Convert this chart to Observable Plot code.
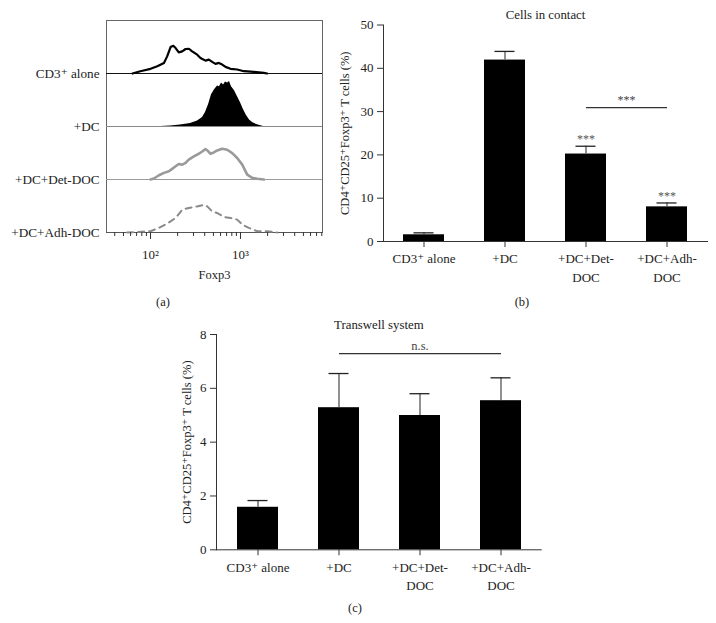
<!DOCTYPE html>
<html>
<head>
<meta charset="utf-8">
<script src="https://cdn.jsdelivr.net/npm/d3@7"></script>
<script src="https://cdn.jsdelivr.net/npm/@observablehq/plot@0.6"></script>
<style>
  html, body { margin: 0; padding: 0; background: white; }
  #fig { position: relative; width: 716px; height: 623px; background: white; font-family: "Liberation Serif", "DejaVu Serif", serif; color: #222; }
  #fig > svg { position: absolute; font-family: "Liberation Serif", "DejaVu Serif", serif !important; font-size: 12px !important; }
  #fig > svg text { font-family: "Liberation Serif", "DejaVu Serif", serif !important; }
  .plabel { position: absolute; font-size: 12.5px; transform: translate(-50%, -50%); white-space: nowrap; }
</style>
</head>
<body>
<div id="fig"></div>
<script>
// ---------- Panel (a): Foxp3 histograms ----------
const histSamples = ["CD3⁺ alone", "+DC", "+DC+Det-DOC", "+DC+Adh-DOC"];

const cd3Foxp3 = [63, 77, 100, 119, 141, 153, 167, 179, 190, 206, 225, 245, 267, 290, 330, 359, 408, 445, 484, 527, 574, 626, 681, 774, 918, 1089, 1406, 1816, 1976];
const cd3Count = [0, 4.3, 8.8, 13.6, 20, 32.3, 49.9, 52.3, 48, 39.8, 41.7, 46.2, 46.7, 41.7, 35.5, 29.3, 24.3, 26.2, 21.9, 18.1, 20, 16.8, 12.5, 8.8, 7.5, 4.3, 3.2, 1.3, 0];

const dcFoxp3 = [129, 167, 215, 278, 333, 378, 408, 441, 476, 514, 555, 584, 615, 648, 681, 717, 755, 794, 858, 926, 1000, 1080, 1166, 1259, 1360, 1507, 1800];
const dcCount = [0, 0.9, 2.8, 5.6, 10.3, 16.8, 26.2, 41.1, 59.8, 69.2, 76.6, 74.8, 82.2, 78.5, 84.1, 82.2, 85, 74.8, 67.3, 56.1, 44.9, 31.8, 20.6, 12.1, 7.5, 3.7, 0];

const detFoxp3 = [100, 109, 124, 141, 160, 174, 190, 206, 225, 245, 266, 303, 344, 375, 408, 427, 464, 505, 551, 626, 711, 809, 918, 1045, 1186, 1349, 1532, 1816];
const detCount = [0, 1.9, 8, 12.5, 15.5, 20, 24.9, 29.3, 28, 31.2, 37.4, 43.6, 48.6, 52.9, 57.4, 54.8, 48.6, 51, 54.8, 57.9, 56.1, 49.9, 40.6, 28, 9.3, 3.2, 1.3, 0];

const adhFoxp3 = [55, 100, 124, 153, 190, 225, 266, 330, 391, 427, 484, 551, 652, 774, 918, 1045, 1236, 1532, 1976, 2552];
const adhCount = [0, 2.4, 8.8, 16.8, 27.5, 43, 46.2, 49.2, 52.3, 49.2, 39.8, 36.8, 29.3, 27.5, 24.3, 15, 8.8, 2.4, 2.4, 0];

const foxp3Domain = [32.4, 8150];
const majorTicks = [100, 1000];
const majorTickLabels = ["10²", "10³"];
const minorTicks = [40, 50, 60, 70, 80, 90, 200, 300, 400, 500, 600, 700, 800, 900, 2000, 3000, 4000, 5000, 6000, 7000, 8000];

// ---------- Panels (b) and (c): bar charts ----------
const groups = ["CD3⁺ alone", "+DC", "+DC+Det-DOC", "+DC+Adh-DOC"];
const groupLabels = ["CD3⁺ alone", "+DC", "+DC+Det-\nDOC", "+DC+Adh-\nDOC"];

const contactMean = [1.55, 41.9, 20.2, 8.0];
const contactErr = [0.45, 2.0, 1.8, 0.9];
const contactStars = ["", "", "***", "***"];
const contactYTicks = [0, 10, 20, 30, 40, 50];

const transwellMean = [1.58, 5.28, 4.99, 5.54];
const transwellErr = [0.25, 1.27, 0.81, 0.85];
const transwellYTicks = [0, 2, 4, 6, 8];

const yLabel = "CD4⁺CD25⁺Foxp3⁺ T cells (%)";

// ---------- build ----------
const fig = document.getElementById("fig");
const serif = "Liberation Serif, DejaVu Serif, serif";
const baseStyle = {fontFamily: serif, fontSize: "12px", color: "#222", background: "transparent", overflow: "visible"};

const histRows = (sample, xs, ys) => xs.map((x, i) => ({sample, foxp3: x, count: ys[i]}));
const cd3Rows = histRows(histSamples[0], cd3Foxp3, cd3Count);
const dcRows = histRows(histSamples[1], dcFoxp3, dcCount);
const detRows = histRows(histSamples[2], detFoxp3, detCount);
const adhRows = histRows(histSamples[3], adhFoxp3, adhCount);
const baseColors = ["#111", "#8a8a8a", "#9a9a9a", "#555"];

const plotA = Plot.plot({
  width: 330, height: 290,
  marginLeft: 106, marginRight: 8, marginTop: 19, marginBottom: 57,
  style: baseStyle,
  x: {type: "log", domain: foxp3Domain, label: null},
  y: {domain: [0, 100], axis: null},
  fy: {domain: histSamples, padding: 0, axis: null, label: null},
  marks: [
    Plot.frame({stroke: "#666"}),
    ...histSamples.map((s, i) => Plot.ruleY([0], {fy: [s], stroke: baseColors[i], strokeWidth: 1})),
    Plot.areaY(dcRows, {x: "foxp3", y: "count", fy: "sample", fill: "black"}),
    Plot.lineY(cd3Rows, {x: "foxp3", y: "count", fy: "sample", stroke: "black", strokeWidth: 2.2}),
    Plot.lineY(detRows, {x: "foxp3", y: "count", fy: "sample", stroke: "#9a9a9a", strokeWidth: 2.6}),
    Plot.lineY(adhRows, {x: "foxp3", y: "count", fy: "sample", stroke: "#8a8a8a", strokeWidth: 2, strokeDasharray: "6,5"}),
    Plot.text(histSamples, {fy: d => d, x: () => foxp3Domain[0], y: () => 0, text: d => d, textAnchor: "end", lineAnchor: "middle", dx: -7, fill: "#222", fontSize: 13.2, fontFamily: serif}),
    Plot.axisX({ticks: majorTicks, tickSize: 7, tickPadding: 10, stroke: "#333", fontSize: 13, fontFamily: serif, tickFormat: d => majorTickLabels[majorTicks.indexOf(d)], label: null}),
    Plot.axisX({ticks: minorTicks, tickSize: 4, stroke: "#333", tickFormat: () => "", label: null}),
    Plot.text(["Foxp3"], {fy: [histSamples[3]], frameAnchor: "bottom", textAnchor: "middle", lineAnchor: "middle", dy: 42, fill: "#222", fontSize: 12.5, fontFamily: serif})
  ]
});
plotA.style.left = "0px"; plotA.style.top = "0px";
fig.appendChild(plotA);

function barPanel({mean, err, stars, yDomain, yTicks, title, w, h, ml, mr, mt, mb, titleDy, ylabDx, sig}) {
  const table = groups.map((g, i) => ({group: g, mean: mean[i], err: err[i], top: mean[i] + err[i], stars: stars ? stars[i] : ""}));
  const step = (w - ml - mr) / groups.length;
  const marks = [
    Plot.barY(table, {x: "group", y: "mean", fill: "black"}),
    Plot.ruleX(table, {x: "group", y1: "mean", y2: "top", stroke: "#555", strokeWidth: 1.3}),
    Plot.tickY(table, {x: "group", y: "top", stroke: "#222", strokeWidth: 1.3, insetLeft: 10.5, insetRight: 10.5}),
    Plot.text(table.filter(d => d.stars), {x: "group", y: "top", text: "stars", dy: -7, fill: "#555", fontSize: 12, fontFamily: serif}),
    Plot.link([sig], {x1: "from", x2: "to", y1: "y", y2: "y", stroke: "#333", strokeWidth: 1.2}),
    Plot.text([sig], {x: "at", y: "y", text: "text", dy: -8, dx: sig.half ? step / 2 : 0, fill: "#444", fontFamily: serif, fontSize: sig.text === "***" ? 12 : 12.5}),
    Plot.frame({anchor: "left", stroke: "#333"}),
    Plot.frame({anchor: "bottom", stroke: "#333"}),
    Plot.axisY({ticks: yTicks, tickSize: 6, tickPadding: 4, stroke: "#333", fontSize: 13, fontFamily: serif, label: null}),
    Plot.axisX({tickSize: 6, tickPadding: 3, stroke: "#333", lineHeight: 1.4, fontSize: 13, fontFamily: serif, tickFormat: d => groupLabels[groups.indexOf(d)], label: null}),
    Plot.text([title], {frameAnchor: "top", textAnchor: "middle", lineAnchor: "middle", dy: titleDy, fill: "#222", fontSize: 12.8, fontFamily: serif}),
    Plot.text([yLabel], {frameAnchor: "left", textAnchor: "middle", lineAnchor: "middle", rotate: -90, dx: ylabDx, fill: "#222", fontSize: 12.5, fontFamily: serif})
  ];
  return Plot.plot({
    width: w, height: h, marginLeft: ml, marginRight: mr, marginTop: mt, marginBottom: mb,
    style: baseStyle,
    x: {domain: groups, paddingInner: 0.5, paddingOuter: 0.25, label: null},
    y: {domain: yDomain, label: null},
    marks
  });
}

const plotB = barPanel({
  mean: contactMean, err: contactErr, stars: contactStars, yDomain: [0, 50], yTicks: contactYTicks,
  title: "Cells in contact", w: 386, h: 290, ml: 53, mr: 9, mt: 24.5, mb: 49, titleDy: -10.5, ylabDx: -39,
  sig: {from: groups[2], to: groups[3], at: groups[2], half: true, y: 30.9, text: "***"}
});
plotB.style.left = "330px"; plotB.style.top = "0px";
fig.appendChild(plotB);

const plotC = barPanel({
  mean: transwellMean, err: transwellErr, stars: null, yDomain: [0, 8], yTicks: transwellYTicks,
  title: "Transwell system", w: 420, h: 313, ml: 86, mr: 9.3, mt: 24, mb: 73.7, titleDy: -10, ylabDx: -30,
  sig: {from: groups[1], to: groups[3], at: groups[2], half: false, y: 7.29, text: "n.s."}
});
plotC.style.left = "130px"; plotC.style.top = "310px";
fig.appendChild(plotC);

// panel letters
[["(a)", 163, 302], ["(b)", 522, 302], ["(c)", 355, 608]].forEach(([t, x, y]) => {
  const d = document.createElement("div");
  d.className = "plabel"; d.textContent = t;
  d.style.left = x + "px"; d.style.top = y + "px";
  fig.appendChild(d);
});
</script>
</body>
</html>
